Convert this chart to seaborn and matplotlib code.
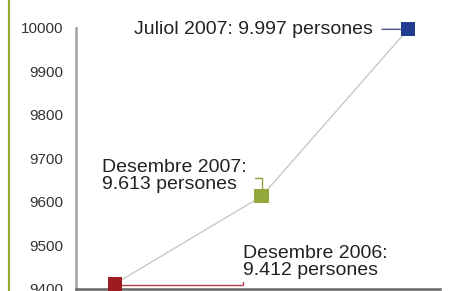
import numpy as np
import pandas as pd
import matplotlib
matplotlib.use('Agg')
import matplotlib.pyplot as plt
from matplotlib.lines import Line2D
from matplotlib.transforms import offset_copy
import seaborn as sns

# data
periods = ['Desembre 2006', 'Desembre 2007', 'Juliol 2007']
people = [9412, 9613, 9997]
labels = ['Desembre 2006:\n9.412 persones', 'Desembre 2007:\n9.613 persones', 'Juliol 2007: 9.997 persones']
colors = ['#9c1c22', '#93a83c', '#223c92']
yticks = [9400, 9500, 9600, 9700, 9800, 9900, 10000]

df = pd.DataFrame({'period': periods, 'pos': range(len(periods)), 'people': people})

sns.set_style('white')
plt.rcParams['font.family'] = ['Liberation Sans', 'DejaVu Sans']

fig = plt.figure(figsize=(4.49, 2.91), dpi=100)
ax = fig.add_axes([75.5 / 449, 1 - 289 / 291, (440 - 75.5) / 449, (289 - 28) / 291])

sns.lineplot(data=df, x='pos', y='people', color='#c4c4c4', linewidth=0.9, ax=ax, zorder=1)
sns.scatterplot(data=df, x='pos', y='people', hue='period', palette=colors, marker='s',
                s=105, linewidth=0, legend=False, ax=ax, zorder=3, clip_on=False)

ax.set_xlim(-0.2696, 2.218)
ax.set_ylim(9400, 10000)
ax.set_yticks(yticks)
ax.set_yticklabels([str(t) for t in yticks])
ax.set_xticks([2.218])
ax.set_xticklabels([])
ax.set_xlabel('')
ax.set_ylabel('')
ax.tick_params(axis='y', direction='in', length=3.5, width=1.2, color='#999999',
               labelsize=11, labelcolor='#333333', pad=9)
ax.tick_params(axis='x', direction='in', length=3.5, width=1.2, color='#666666')
for s in ['top', 'right']:
    ax.spines[s].set_visible(False)
ax.spines['left'].set_color('#a0a0a0')
ax.spines['left'].set_linewidth(1.8)
ax.spines['bottom'].set_color('#666666')
ax.spines['bottom'].set_linewidth(1.8)
ax.patch.set_alpha(0)

txt = dict(fontsize=14, color='#222222', textcoords='offset pixels', annotation_clip=False)

# Desembre 2006 (red): label to the right, elbow connector from below the marker
ax.annotate(labels[0], xy=(df.pos[0], people[0]),
            xycoords=offset_copy(ax.transData, fig=fig, y=-1, units='dots'),
            xytext=(128, 6), ha='left', va='bottom', linespacing=1.0,
            arrowprops=dict(arrowstyle='-', color='#b0404c', lw=1.0, relpos=(0, 0),
                            shrinkA=0, shrinkB=5,
                            connectionstyle='angle,angleA=90,angleB=0,rad=0'), **txt)

# Desembre 2007 (green): label up-left, elbow connector down onto the marker
ax.annotate(labels[1], xy=(df.pos[1], people[1]), xytext=(-160, 37),
            ha='left', va='top', linespacing=1.0,
            arrowprops=dict(arrowstyle='-', color='#8fa33a', lw=1.0, relpos=(1, 0.45),
                            shrinkA=4, shrinkB=5,
                            connectionstyle='angle,angleA=0,angleB=90,rad=0'), **txt)

# Juliol 2007 (blue): label to the left, straight connector
ax.annotate(labels[2], xy=(df.pos[2], people[2]), xytext=(-35, 0),
            ha='right', va='center',
            arrowprops=dict(arrowstyle='-', color='#4a5784', lw=1.0, relpos=(1, 0.5),
                            shrinkA=4, shrinkB=5), **txt)

# olive border line on the left
fig.add_artist(Line2D([9 / 449, 9 / 449], [0, 1], color='#9aa832', linewidth=1.6,
                      transform=fig.transFigure))

fig.savefig('out.png', dpi=100)
